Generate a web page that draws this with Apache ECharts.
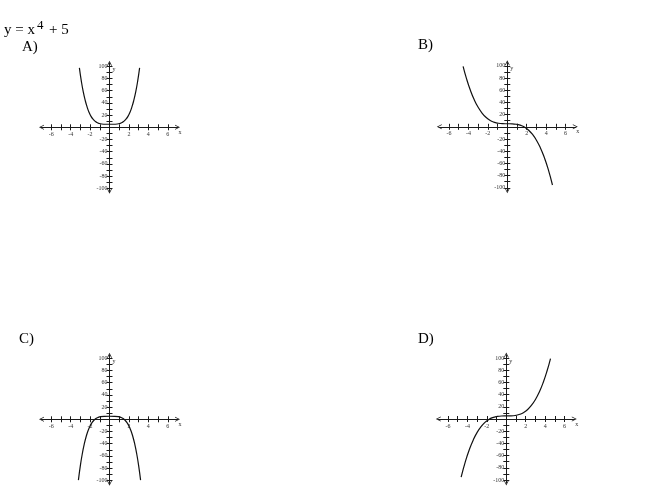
<!DOCTYPE html>
<html>
<head>
<meta charset="utf-8">
<script src="https://cdn.jsdelivr.net/npm/echarts@6/dist/echarts.min.js"></script>
<style>html,body{margin:0;padding:0;background:#fff;}#c{width:650px;height:499px;}</style>
</head>
<body>
<div id="c"></div>
<script>
// Tick values and labels
var xTicks = [-6,-5,-4,-3,-2,-1,1,2,3,4,5,6];
var xLabels = [-6,-4,-2,2,4,6];
var yTicks = [-100,-90,-80,-70,-60,-50,-40,-30,-20,-10,10,20,30,40,50,60,70,80,90,100];
var yLabels = [-100,-80,-60,-40,-20,20,40,60,80,100];
var panelNames = ['A)','B)','C)','D)'];

// A) y = x^4 + 5
var aX = [-3.1,-2.9,-2.7,-2.5,-2.3,-2.1,-1.9,-1.7,-1.5,-1.3,-1.1,-0.8,-0.4,0,0.4,0.8,1.1,1.3,1.5,1.7,1.9,2.1,2.3,2.5,2.7,2.9,3.1];
var aY = [97.4,75.7,58.1,44.1,33.0,24.4,18.0,13.4,10.1,7.9,6.5,5.4,5.0,5,5.0,5.4,6.5,7.9,10.1,13.4,18.0,24.4,33.0,44.1,58.1,75.7,97.4];
// B) y = -x^3 + 5
var bX = [-4.55,-4.2,-3.8,-3.4,-3,-2.6,-2.2,-1.8,-1.4,-1,-0.5,0,0.5,1,1.4,1.8,2.2,2.6,3,3.4,3.8,4.2,4.65];
var bY = [99.2,79.1,59.9,44.3,32,22.6,15.6,10.8,7.7,6,5.1,5,4.9,4,2.3,-0.8,-5.6,-12.6,-22,-34.3,-49.9,-69.1,-95.5];
// C) y = -x^4 + 5
var cX = [-3.2,-3,-2.8,-2.6,-2.4,-2.2,-2,-1.8,-1.6,-1.4,-1.2,-0.9,-0.5,0,0.5,0.9,1.2,1.4,1.6,1.8,2,2.2,2.4,2.6,2.8,3,3.2];
var cY = [-99.9,-76,-56.5,-40.7,-28.2,-18.4,-11,-5.5,-1.6,1.2,2.9,4.3,4.9,5,4.9,4.3,2.9,1.2,-1.6,-5.5,-11,-18.4,-28.2,-40.7,-56.5,-76,-99.9];
// D) y = x^3 + 5
var dX = [-4.65,-4.2,-3.8,-3.4,-3,-2.6,-2.2,-1.8,-1.4,-1,-0.5,0,0.5,1,1.4,1.8,2.2,2.6,3,3.4,3.8,4.2,4.55];
var dY = [-95.5,-69.1,-49.9,-34.3,-22,-12.6,-5.6,-0.8,2.3,4,4.9,5,5.1,6,7.7,10.8,15.6,22.6,32,44.3,59.9,79.1,99.2];

var seriesX = [aX,bX,cX,dX];
var seriesY = [aY,bY,cY,dY];

// layout (pixels)
var W = 136, H = 128;
var grids = [
  {left:41.5, top:63.3},
  {left:439.3, top:62.8},
  {left:41.5, top:355.3},
  {left:438.3, top:355.0}
];
var labelPos = [
  {x:22, y:47.5},
  {x:418, y:45},
  {x:19, y:339.5},
  {x:418, y:339.5}
];

var AX = '#1a1a1a';
var serif = '"Liberation Serif", "DejaVu Serif", serif';
var lblStyle = {fontSize:6, fontFamily:serif, color:'#333'};
var chevron = 'path://M5 0 L10 10 L8.4 10 L5 3.2 L1.6 10 L0 10 Z';
var chart = echarts.init(document.getElementById('c'), null, {renderer:'canvas'});

var option = {
  backgroundColor:'#fff',
  animation:false,
  grid:[], xAxis:[], yAxis:[], series:[],
  graphic:[]
};

function hiddenAxis(gi, mn, mx){
  return {type:'value', gridIndex:gi, min:mn, max:mx, show:false,
    axisLine:{show:false}, axisTick:{show:false}, axisLabel:{show:false}, splitLine:{show:false}};
}

grids.forEach(function(g, i){
  var lineStyle = {color:AX, width:1};
  // main grid: axes on zero with cross ticks, curve
  var gMain = option.grid.length;
  option.grid.push({left:g.left, top:g.top, width:W, height:H});
  var baseX = {
    type:'value', gridIndex:gMain, min:-7, max:7,
    axisLine:{show:true, onZero:true, lineStyle:lineStyle},
    splitLine:{show:false},
    axisTick:{show:true, length:3, customValues:xTicks, lineStyle:lineStyle},
    axisLabel:{show:false}
  };
  var x0 = echarts.util.merge(echarts.util.clone(baseX), {
    position:'bottom',
    axisLine:{symbol:[chevron, chevron], symbolSize:[6,5]},
    name:'x', nameLocation:'end', nameGap:1,
    nameTextStyle:echarts.util.extend({verticalAlign:'top', padding:[2,0,0,0]}, lblStyle)
  }, true);
  var x1 = echarts.util.merge(echarts.util.clone(baseX), {position:'top'}, true);
  var baseY = {
    type:'value', gridIndex:gMain, min:-105, max:105,
    axisLine:{show:true, onZero:true, lineStyle:lineStyle},
    splitLine:{show:false},
    axisTick:{show:true, length:3, customValues:yTicks, lineStyle:lineStyle},
    axisLabel:{show:false}
  };
  var y0 = echarts.util.merge(echarts.util.clone(baseY), {
    position:'left',
    axisLine:{symbol:[chevron, chevron], symbolSize:[6,5]},
    name:'y', nameLocation:'end', nameGap:-3,
    nameTextStyle:echarts.util.extend({align:'left', verticalAlign:'top', padding:[0,0,0,3]}, lblStyle)
  }, true);
  var y1 = echarts.util.merge(echarts.util.clone(baseY), {position:'right'}, true);
  var xi = option.xAxis.length, yi = option.yAxis.length;
  option.xAxis.push(x0, x1);
  option.yAxis.push(y0, y1);
  var xs = seriesX[i], ys = seriesY[i];
  option.series.push({
    type:'line', xAxisIndex:xi, yAxisIndex:yi,
    data: xs.map(function(v, k){ return [v, ys[k]]; }),
    smooth:true, showSymbol:false, symbol:'none',
    lineStyle:{color:'#111', width:1.2}
  });

  // x-label grid: upper half of panel, its bottom edge is the y = 0 line
  var gX = option.grid.length;
  option.grid.push({left:g.left, top:g.top, width:W, height:H/2});
  option.xAxis.push({
    type:'value', gridIndex:gX, min:-7, max:7, position:'bottom',
    axisLine:{show:false, onZero:false}, axisTick:{show:false}, splitLine:{show:false},
    axisLabel:echarts.util.extend({show:true, customValues:xLabels, margin:4}, lblStyle)
  });
  option.yAxis.push(hiddenAxis(gX, 0, 105));

  // y-label grid: right half of panel, its left edge is the x = 0 line
  var gY = option.grid.length;
  option.grid.push({left:g.left + W/2, top:g.top, width:W/2, height:H});
  option.yAxis.push({
    type:'value', gridIndex:gY, min:-105, max:105, position:'left',
    axisLine:{show:false, onZero:false}, axisTick:{show:false}, splitLine:{show:false},
    axisLabel:echarts.util.extend({show:true, customValues:yLabels, margin:2}, lblStyle)
  });
  option.xAxis.push(hiddenAxis(gY, 0, 7));

  option.graphic.push({
    type:'text', x:labelPos[i].x, y:labelPos[i].y,
    style:{text:panelNames[i], font:'15px ' + serif, fill:'#000', verticalAlign:'middle'}
  });
});

// title: y = x^4 + 5
option.graphic.push(
  {type:'text', x:4, y:30, style:{text:'y = x', font:'15px ' + serif, fill:'#000', verticalAlign:'middle'}},
  {type:'text', x:37, y:26, style:{text:'4', font:'13px ' + serif, fill:'#000', verticalAlign:'middle'}},
  {type:'text', x:49, y:30, style:{text:'+ 5', font:'15px ' + serif, fill:'#000', verticalAlign:'middle'}}
);

chart.setOption(option);
</script>
</body>
</html>
